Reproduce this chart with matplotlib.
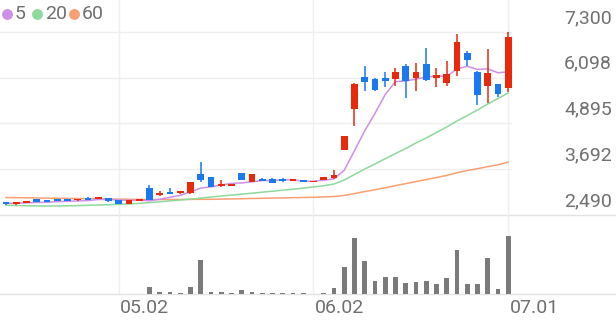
import matplotlib
matplotlib.use('Agg')
import matplotlib.pyplot as plt
from matplotlib.lines import Line2D
import numpy as np

plt.rcParams['font.family'] = ['Roboto', 'DejaVu Sans']

# 일봉 데이터
opens = [2832, 2770, 2810, 2910, 2875, 2900, 2900, 2875, 2945, 2920,
         2945, 2885, 2790, 2850, 3190, 3025, 3100, 3075, 3060, 3568,
         3490, 3245, 3250, 3595, 3365, 3445, 3445, 3445, 3385, 3410,
         3350, 3410, 3455, 4200, 5268, 6109, 6056, 6098, 6056, 6414,
         6083, 6450, 6083, 5967, 6282, 6740, 6256, 5880, 5925, 5820]
highs = [2840, 2840, 2860, 2920, 2880, 2905, 2905, 2915, 2960, 2975,
         2950, 2890, 2880, 2905, 3290, 3110, 3200, 3130, 3360, 3880,
         3500, 3400, 3315, 3600, 3570, 3455, 3450, 3470, 3435, 3415,
         3395, 3485, 3670, 4570, 5950, 6400, 6098, 6240, 6355, 6467,
         6477, 6885, 6345, 6530, 7240, 6810, 6270, 6860, 5940, 7300]
lows = [2760, 2760, 2800, 2835, 2820, 2855, 2860, 2870, 2880, 2915,
        2830, 2775, 2785, 2845, 2880, 3000, 3030, 3050, 3050, 3370,
        3215, 3235, 3245, 3410, 3355, 3375, 3320, 3360, 3380, 3345,
        3345, 3405, 3440, 4190, 4830, 5750, 5750, 5855, 5880, 5575,
        5750, 6010, 5860, 5886, 6150, 6415, 5376, 5430, 5585, 5735]
closes = [2770, 2830, 2855, 2840, 2825, 2860, 2865, 2910, 2885, 2970,
          2865, 2780, 2875, 2900, 2890, 3075, 3040, 3120, 3350, 3410,
          3225, 3305, 3305, 3420, 3560, 3385, 3330, 3385, 3430, 3350,
          3390, 3480, 3540, 4566, 5933, 5993, 5775, 6020, 6256, 6020,
          6240, 6038, 6161, 6188, 7028, 6563, 5644, 6230, 5670, 7160]

# 이동평균선
ma5 = [2795, 2800, 2810, 2820, 2824, 2842, 2849, 2860, 2869, 2898,
       2899, 2882, 2875, 2878, 2862, 2904, 2956, 3005, 3095, 3199,
       3229, 3282, 3319, 3333, 3363, 3395, 3400, 3416, 3418, 3376,
       3377, 3407, 3438, 3665, 4182, 4702, 5161, 5657, 5995, 6013,
       6062, 6115, 6143, 6129, 6331, 6396, 6317, 6331, 6227, 6253]
ma20 = [2745, 2740, 2732, 2729, 2727, 2729, 2732, 2737, 2745, 2753,
        2761, 2771, 2782, 2795, 2816, 2837, 2861, 2884, 2908, 2934,
        2963, 2989, 3013, 3039, 3063, 3089, 3115, 3142, 3168, 3197,
        3226, 3260, 3305, 3410, 3554, 3699, 3830, 3970, 4106, 4238,
        4382, 4514, 4658, 4803, 4960, 5105, 5249, 5407, 5552, 5696]
ma60 = [2950, 2946, 2942, 2938, 2934, 2931, 2927, 2922, 2918, 2914,
        2910, 2907, 2903, 2900, 2897, 2897, 2898, 2899, 2900, 2902,
        2903, 2908, 2913, 2918, 2924, 2929, 2934, 2940, 2945, 2950,
        2955, 2965, 2976, 3004, 3054, 3106, 3154, 3206, 3262, 3314,
        3369, 3421, 3475, 3530, 3599, 3660, 3706, 3762, 3808, 3879]

# 거래량 (상대값)
volumes = [500, 500, 500, 500, 500, 500, 500, 500, 500, 500,
           500, 500, 500, 500, 6700, 2300, 2300, 1000, 7000, 34300,
           1700, 2300, 700, 4000, 2300, 1000, 1000, 1300, 700, 700,
           500, 700, 6000, 27300, 56000, 32700, 13000, 17000, 16700, 10700,
           12000, 13300, 10300, 16300, 44300, 10300, 9700, 35700, 5300, 57700]

date_ticks = [11, 30, 49]
date_labels = ['05.02', '06.02', '07.01']
price_ticks = [7300, 6098, 4895, 3692, 2490]
price_labels = ['7,300', '6,098', '4,895', '3,692', '2,490']
ma_labels = ['5', '20', '60']
ma_colors = ['#cf8fe8', '#8ed99c', '#f8a072']

up_color = '#e8290c'
down_color = '#1a78f0'
grid_color = '#efefef'
text_color = '#707070'

fig = plt.figure(figsize=(6.16, 3.21), dpi=100)
ax = fig.add_axes([0, 0.3302, 0.8312, 0.6698])
axv = fig.add_axes([0, 0.0841, 0.8312, 0.2461])

x = np.arange(len(closes))
o = np.array(opens)
c = np.array(closes)
colors = [up_color if cc >= oo else down_color for oo, cc in zip(o, c)]

# 격자
for t in price_ticks[:-1]:
    ax.axhline(t, color=grid_color, lw=1, zorder=0)
ax.axhline(price_ticks[-1], xmax=616 / 512, color='#e2e2e2', lw=1, clip_on=False, zorder=0)
for t in date_ticks:
    ax.axvline(t, color=grid_color, lw=1, zorder=0)
    axv.axvline(t, color=grid_color, lw=1, zorder=0)

# 이동평균선
ax.plot(x, ma60, color=ma_colors[2], lw=1.1, zorder=2)
ax.plot(x, ma20, color=ma_colors[1], lw=1.1, zorder=2)
ax.plot(x, ma5, color=ma_colors[0], lw=1.1, zorder=2)

# 캔들
ax.vlines(x, lows, highs, colors=colors, lw=1.1, zorder=3)
body_bottom = np.minimum(o, c)
body_height = np.maximum(np.abs(c - o), 35)
ax.bar(x, body_height, bottom=body_bottom, width=0.65, color=colors, zorder=4)

ax.set_xlim(-0.585, 49.37)
ax.set_ylim(2490, 8140)
ax.axis('off')

# 가격 라벨
for t, lab in zip(price_ticks, price_labels):
    ax.annotate(lab, xy=(1, t), xycoords=ax.get_yaxis_transform(),
                xytext=(72, 10), textcoords='offset points',
                ha='right', va='center', fontsize=14, color=text_color,
                annotation_clip=False)

# 범례 (원 + 숫자)
legend_x = [7, 37, 74]  # 픽셀 위치
for px, col, lab in zip(legend_x, ma_colors, ma_labels):
    fx = px / 616
    fy = (321 - 14) / 321
    fig.add_artist(Line2D([fx], [fy], ls='', marker='o', markersize=6.8,
                          color=col, transform=fig.transFigure))
    fig.text(fx + 8 / 616, fy, lab, ha='left', va='center',
             fontsize=14, color=text_color)

# 거래량
axv.bar(x, volumes, width=0.48, color='#7a7a7a', zorder=2)
axv.axhline(0, xmax=616 / 512, color='#e2e2e2', lw=1, clip_on=False, zorder=1)
axv.set_xlim(-0.585, 49.37)
axv.set_ylim(0, 79000)
axv.axis('off')

for t, lab in zip(date_ticks, date_labels):
    axv.annotate(lab, xy=(t, 0), xytext=(1, -10), textcoords='offset points',
                 ha='left', va='center', fontsize=14, color=text_color,
                 annotation_clip=False)

fig.savefig('out.png', dpi=100)
